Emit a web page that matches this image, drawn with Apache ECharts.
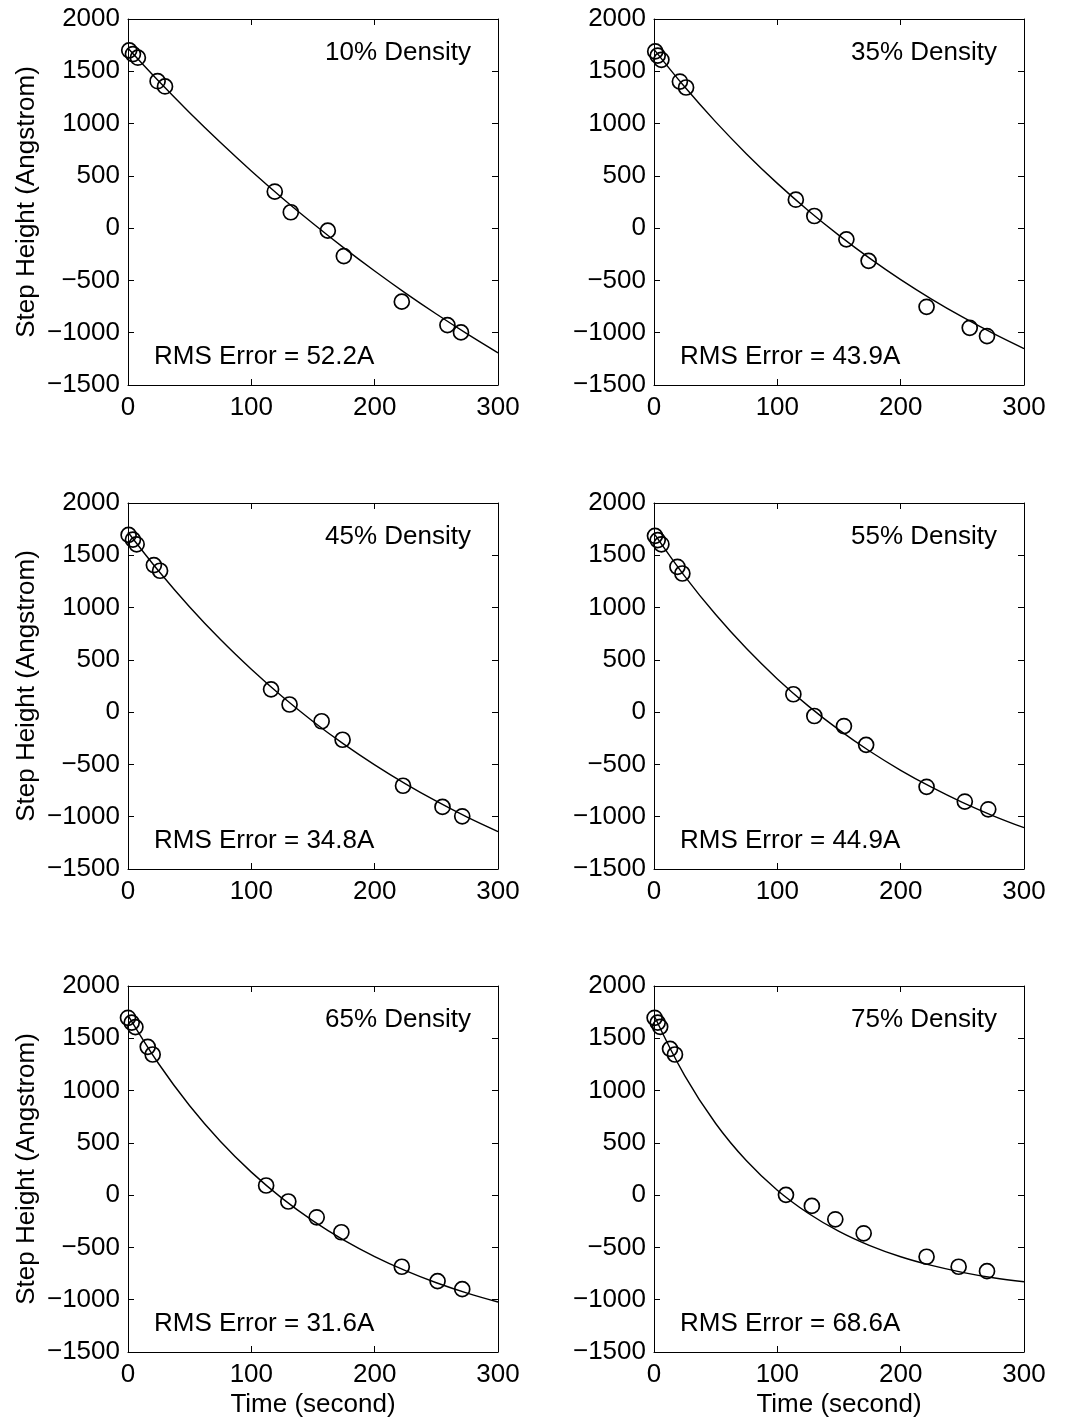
<!DOCTYPE html>
<html>
<head>
<meta charset="utf-8">
<title>Step height vs time</title>
<script src="https://cdn.jsdelivr.net/npm/echarts@6/dist/echarts.min.js"></script>
<style>
  html, body { margin: 0; padding: 0; background: #fff; }
  #chart { width: 1071px; height: 1425px; }
</style>
</head>
<body>
<div id="chart"></div>
<script>
// axis ticks
const xTicks = [0, 100, 200, 300];
const yTicks = [-1500, -1000, -500, 0, 500, 1000, 1500, 2000];

// panel labels
const densityLabels = ['10% Density', '35% Density', '45% Density', '55% Density', '65% Density', '75% Density'];
const rmsLabels = ['RMS Error = 52.2A', 'RMS Error = 43.9A', 'RMS Error = 34.8A', 'RMS Error = 44.9A', 'RMS Error = 31.6A', 'RMS Error = 68.6A'];

// measured points (time in s, step height in Angstrom)
const time10 = [1, 4, 8, 24, 30, 119, 132, 162, 175, 222, 259, 270];
const height10 = [1700, 1665, 1630, 1405, 1355, 350, 152, -24, -267, -703, -927, -997];
const time35 = [1, 3, 6, 21, 26, 115, 130, 156, 174, 221, 256, 270];
const height35 = [1690, 1650, 1610, 1402, 1345, 272, 116, -107, -313, -752, -953, -1032];
const time45 = [0.5, 4, 7, 21, 26, 116, 131, 157, 174, 223, 255, 271];
const height45 = [1695, 1650, 1605, 1406, 1352, 218, 73, -87, -264, -704, -906, -996];
const time55 = [0.8, 3, 6, 19, 23, 113, 130, 154, 172, 221, 252, 271];
const height55 = [1686, 1645, 1605, 1390, 1326, 171, -37, -133, -313, -714, -855, -929];
const time65 = [0, 3, 6, 16, 20, 112, 130, 153, 173, 222, 251, 271];
const height65 = [1696, 1650, 1607, 1418, 1345, 92, -61, -212, -355, -685, -822, -899];
const time75 = [0.5, 3, 5, 13, 17, 107, 128, 147, 170, 221, 247, 270];
const height75 = [1696, 1650, 1610, 1399, 1345, 3, -103, -231, -365, -589, -685, -727];

// fitted curves, read at every 25 s
const fitTime = [0, 25, 50, 75, 100, 125, 150, 175, 200, 225, 250, 275, 300];
const fit10 = [1720, 1404, 1104, 819, 547, 289, 44, -189, -410, -621, -821, -1011, -1192];
const fit35 = [1710, 1349, 1016, 710, 428, 169, -69, -289, -492, -678, -849, -1007, -1152];
const fit45 = [1720, 1347, 1006, 694, 410, 149, -89, -306, -504, -686, -852, -1004, -1142];
const fit55 = [1710, 1299, 933, 608, 318, 60, -170, -374, -556, -718, -863, -991, -1105];
const fit65 = [1720, 1254, 855, 513, 220, -31, -246, -430, -587, -722, -838, -937, -1022];
const fit75 = [1720, 1140, 685, 328, 47, -173, -346, -482, -589, -672, -738, -790, -828];

const panels = [
  { t: time10, h: height10, fit: fit10 },
  { t: time35, h: height35, fit: fit35 },
  { t: time45, h: height45, fit: fit45 },
  { t: time55, h: height55, fit: fit55 },
  { t: time65, h: height65, fit: fit65 },
  { t: time75, h: height75, fit: fit75 }
];

// layout (px)
const colLeft = [128, 654];
const rowTop = [19, 503, 986];
const gridW = 370;
const gridH = 366;
const font = 'Liberation Sans, Arial, Helvetica, sans-serif';
const fontSize = 26;

const fmt = v => (v < 0 ? '\u2212' + Math.abs(v) : String(v));
const black = { color: '#000', width: 1 };

const grids = [];
const xAxes = [];
const yAxes = [];
const series = [];
const graphics = [];

panels.forEach((p, i) => {
  const row = Math.floor(i / 2);
  const col = i % 2;
  const left = colLeft[col];
  const top = rowTop[row];
  grids.push({ left: left, top: top, width: gridW, height: gridH, outerBoundsMode: 'none', containLabel: false });

  const xBase = {
    gridIndex: i, type: 'value', min: xTicks[0], max: xTicks[xTicks.length - 1], interval: 100,
    axisLine: { show: true, onZero: false, lineStyle: black },
    axisTick: { show: true, inside: true, length: 6, lineStyle: black },
    splitLine: { show: false }
  };
  xAxes.push(Object.assign({}, xBase, {
    position: 'bottom',
    axisLabel: { color: '#000', fontSize: fontSize, fontFamily: font, margin: 10, formatter: fmt },
    name: row === 2 ? 'Time (second)' : '',
    nameLocation: 'middle', nameGap: 40,
    nameTextStyle: { color: '#000', fontSize: fontSize, fontFamily: font }
  }));
  xAxes.push(Object.assign({}, xBase, { position: 'top', axisLabel: { show: false } }));

  const yBase = {
    gridIndex: i, type: 'value', min: yTicks[0], max: yTicks[yTicks.length - 1], interval: 500,
    axisLine: { show: true, onZero: false, lineStyle: black },
    axisTick: { show: true, inside: true, length: 6, lineStyle: black },
    splitLine: { show: false }
  };
  yAxes.push(Object.assign({}, yBase, {
    position: 'left',
    axisLabel: { color: '#000', fontSize: fontSize, fontFamily: font, margin: 8, formatter: fmt },
    name: col === 0 ? 'Step Height (Angstrom)' : '',
    nameLocation: 'middle', nameGap: 88, nameRotate: 90,
    nameTextStyle: { color: '#000', fontSize: fontSize, fontFamily: font }
  }));
  yAxes.push(Object.assign({}, yBase, { position: 'right', axisLabel: { show: false } }));

  series.push({
    type: 'line',
    xAxisIndex: 2 * i, yAxisIndex: 2 * i,
    data: fitTime.map((t, k) => [t, p.fit[k]]),
    smooth: 0.4,
    showSymbol: false,
    silent: true,
    lineStyle: { color: '#000', width: 1.4 },
    z: 2
  });
  series.push({
    type: 'scatter',
    xAxisIndex: 2 * i, yAxisIndex: 2 * i,
    data: p.t.map((t, k) => [t, p.h[k]]),
    symbol: 'circle',
    symbolSize: 15,
    itemStyle: { color: 'rgba(0,0,0,0)', borderColor: '#000', borderWidth: 1.7, opacity: 1 },
    z: 3
  });

  // in-plot annotations
  graphics.push({
    type: 'text',
    x: left + gridW - 27, y: top + 34,
    style: {
      text: densityLabels[i], fill: '#000', font: fontSize + 'px ' + font,
      align: 'right', textAlign: 'right', verticalAlign: 'middle', textVerticalAlign: 'middle'
    }
  });
  graphics.push({
    type: 'text',
    x: left + 26, y: top + gridH - 28,
    style: {
      text: rmsLabels[i], fill: '#000', font: fontSize + 'px ' + font,
      align: 'left', textAlign: 'left', verticalAlign: 'middle', textVerticalAlign: 'middle'
    }
  });
});

const chart = echarts.init(document.getElementById('chart'), null, { renderer: 'canvas' });
chart.setOption({
  backgroundColor: '#fff',
  animation: false,
  grid: grids,
  xAxis: xAxes,
  yAxis: yAxes,
  series: series,
  graphic: graphics
});
</script>
</body>
</html>
